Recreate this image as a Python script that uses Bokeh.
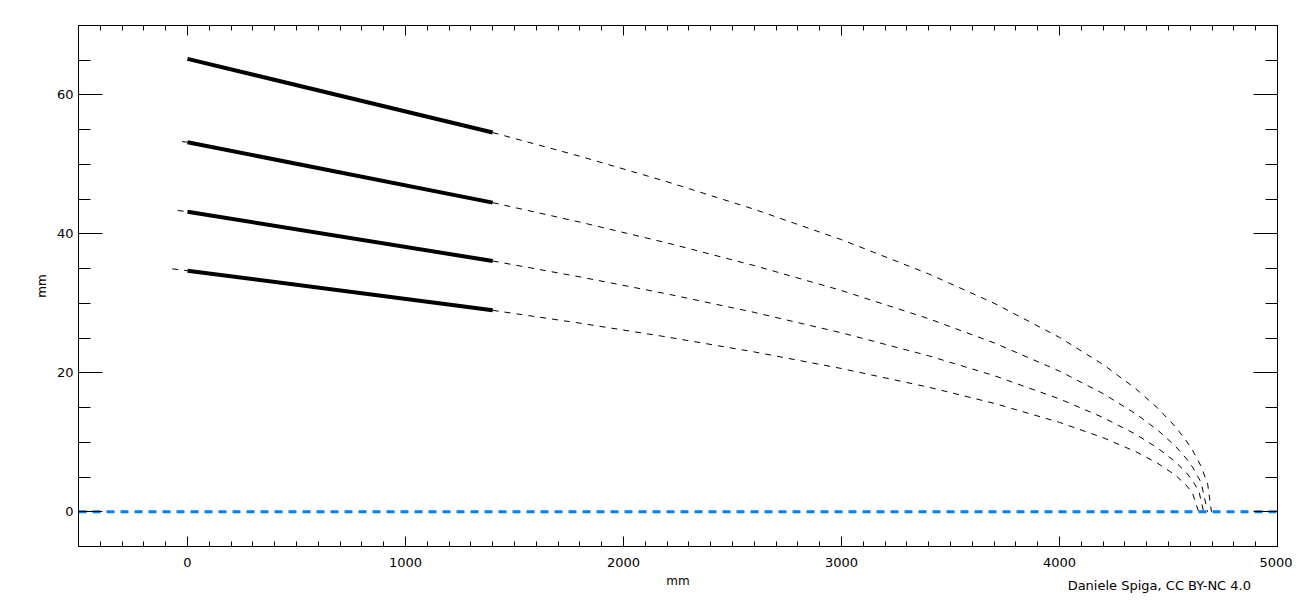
from bokeh.plotting import figure
from bokeh.models import LinearAxis, FixedTicker, Range1d, CustomJSTickFormatter, Div
from bokeh.layouts import column
from bokeh.embed import file_html
from bokeh.resources import INLINE

# ---- data ----
x_major_ticks = [0, 1000, 2000, 3000, 4000, 5000]
x_minor_ticks = list(range(-500, 5001, 100))
y_major_ticks = [0, 20, 40, 60]
y_minor_ticks = list(range(-5, 71, 5))

solid_x = [0, 1400]
shell1_solid_y = [65.2, 54.6]
shell2_solid_y = [53.2, 44.5]
shell3_solid_y = [43.2, 36.1]
shell4_solid_y = [34.7, 29.0]

shell1_dash_x = [1400, 1800, 2200, 2600, 3000, 3400, 3700, 4000, 4200, 4350, 4450, 4530, 4580, 4610, 4650, 4680, 4697]
shell1_dash_y = [54.59, 51.18, 47.51, 43.54, 39.17, 34.24, 30.02, 25.10, 21.20, 17.71, 14.94, 12.29, 10.28, 8.87, 6.52, 3.92, 0.0]

shell2_dash_x = [1400, 1800, 2200, 2600, 3000, 3400, 3700, 4000, 4200, 4350, 4450, 4530, 4580, 4610, 4650, 4679]
shell2_dash_y = [44.50, 41.70, 38.70, 35.44, 31.85, 27.79, 24.32, 20.25, 17.01, 14.10, 11.76, 9.49, 7.73, 6.46, 4.19, 0.0]

shell3_dash_x = [1400, 1800, 2200, 2600, 3000, 3400, 3700, 4000, 4200, 4350, 4450, 4530, 4580, 4610, 4640, 4661]
shell3_dash_y = [36.10, 33.81, 31.36, 28.70, 25.76, 22.45, 19.60, 16.25, 13.57, 11.15, 9.18, 7.24, 5.69, 4.51, 2.90, 0.0]

shell4_dash_x = [1400, 1800, 2200, 2600, 3000, 3400, 3700, 4000, 4200, 4350, 4450, 4530, 4580, 4610, 4638]
shell4_dash_y = [29.00, 27.15, 25.16, 23.01, 20.62, 17.93, 15.61, 12.87, 10.66, 8.65, 6.99, 5.30, 3.88, 2.70, 0.0]

shell2_front_x = [-25, 0]
shell2_front_y = [53.28, 53.2]
shell3_front_x = [-45, 0]
shell3_front_y = [43.37, 43.2]
shell4_front_x = [-70, 0]
shell4_front_y = [34.97, 34.7]

axis_x = [-500, 5000]
axis_y = [0, 0]

credit_text = "Daniele Spiga, CC BY-NC 4.0"

FONT = "DejaVu Sans"

p = figure(width=1292, height=596, output_backend="svg", toolbar_location=None,
           x_range=Range1d(-500, 5000), y_range=Range1d(-5, 70),
           min_border_left=78, min_border_right=15, min_border_top=25, min_border_bottom=50,
           x_axis_label="mm", y_axis_label="mm")
p.grid.visible = False
p.outline_line_color = "black"
p.outline_line_width = 1
p.background_fill_color = "white"
p.border_fill_color = "white"

def style_x(ax, labels=True):
    ax.ticker = FixedTicker(ticks=x_major_ticks, minor_ticks=x_minor_ticks)
    ax.major_tick_in = 10
    ax.major_tick_out = 0
    ax.minor_tick_in = 5
    ax.minor_tick_out = 0
    ax.axis_line_color = "black"
    ax.major_tick_line_color = "black"
    ax.minor_tick_line_color = "black"
    ax.major_label_text_font = FONT
    ax.major_label_text_font_size = "13px"
    ax.major_label_text_color = "black"
    ax.axis_label_text_font = FONT
    ax.axis_label_text_font_size = "12px"
    ax.axis_label_text_font_style = "normal"
    ax.axis_label_text_color = "black"
    if not labels:
        ax.formatter = CustomJSTickFormatter(code="return ''")
        ax.major_label_standoff = 0

def style_y(ax, labels=True):
    ax.ticker = FixedTicker(ticks=y_major_ticks, minor_ticks=y_minor_ticks)
    ax.major_tick_in = 24
    ax.major_tick_out = 0
    ax.minor_tick_in = 12
    ax.minor_tick_out = 0
    ax.axis_line_color = "black"
    ax.major_tick_line_color = "black"
    ax.minor_tick_line_color = "black"
    ax.major_label_text_font = FONT
    ax.major_label_text_font_size = "13px"
    ax.major_label_text_color = "black"
    ax.major_label_orientation = "horizontal"
    ax.axis_label_text_font = FONT
    ax.axis_label_text_font_size = "12px"
    ax.axis_label_text_font_style = "normal"
    ax.axis_label_text_color = "black"
    if not labels:
        ax.formatter = CustomJSTickFormatter(code="return ''")
        ax.major_label_standoff = 0

style_x(p.xaxis[0])
p.xaxis[0].major_label_standoff = 11
p.xaxis[0].axis_label_standoff = 4
style_y(p.yaxis[0])
p.yaxis[0].major_label_standoff = 5
p.yaxis[0].axis_label_standoff = 5

top = LinearAxis()
style_x(top, labels=False)
p.add_layout(top, "above")
right = LinearAxis()
style_y(right, labels=False)
p.add_layout(right, "right")

# solid mirror sections
for ys in (shell1_solid_y, shell2_solid_y, shell3_solid_y, shell4_solid_y):
    p.line(solid_x, ys, line_color="black", line_width=4)

# dashed continuations
for xs, ys in ((shell1_dash_x, shell1_dash_y), (shell2_dash_x, shell2_dash_y),
               (shell3_dash_x, shell3_dash_y), (shell4_dash_x, shell4_dash_y),
               (shell2_front_x, shell2_front_y), (shell3_front_x, shell3_front_y),
               (shell4_front_x, shell4_front_y)):
    p.line(xs, ys, line_color="black", line_width=1, line_dash="6 6")

# optical axis
p.line(axis_x, axis_y, line_color="#0080ff", line_width=3, line_dash="8 6")

credit = Div(text=credit_text, width=250, height=16, margin=(-18, 0, 0, 1001),
             styles={"font-family": "DejaVu Sans", "font-size": "13px", "color": "black",
                     "text-align": "right", "white-space": "nowrap", "line-height": "16px"})

layout = column(p, credit, spacing=0)

open("out.html", "w").write(file_html(layout, INLINE))
